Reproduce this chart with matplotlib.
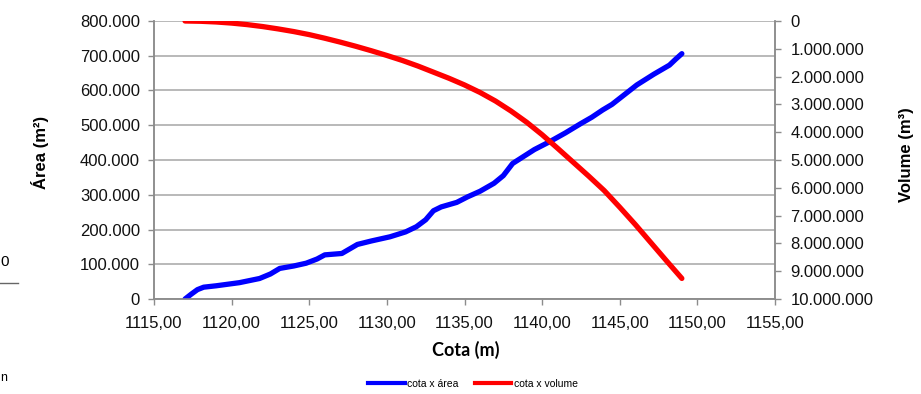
import numpy as np
import matplotlib
matplotlib.use('Agg')
import matplotlib.pyplot as plt
from matplotlib.ticker import FuncFormatter, MultipleLocator
from matplotlib.lines import Line2D

plt.rcParams['font.family'] = 'Liberation Sans'

# cota x área (m, m²)
cota_area = [1117.0, 1117.4, 1117.8, 1118.2, 1119.0, 1120.5, 1121.8, 1122.5, 1123.1, 1124.0,
             1124.8, 1125.5, 1126.0, 1127.1, 1128.1, 1129.0, 1130.2, 1131.2, 1131.9,
             1132.5, 1133.0, 1133.5, 1134.5, 1135.2, 1136.0, 1136.9, 1137.5, 1138.1,
             1138.8, 1139.5, 1140.5, 1141.5, 1142.5, 1143.2, 1143.9, 1144.5, 1145.3,
             1146.1, 1147.2, 1148.2, 1148.6, 1149.0]
area = [0, 14000, 27000, 34000, 38000, 47000, 59000, 72000, 88000, 95000,
        103000, 115000, 127000, 131000, 157000, 167000, 179000, 193000, 208000,
        228000, 254000, 265000, 278000, 294000, 310000, 333000, 355000, 390000,
        410000, 430000, 453000, 478000, 505000, 523000, 544000, 560000, 588000,
        616000, 647000, 673000, 690000, 706000]

# cota x volume (m, m³)
cota_vol = [1117.0, 1118.0, 1119.0, 1120.0, 1121.0, 1122.0, 1123.0, 1124.0, 1125.0,
            1126.0, 1127.0, 1128.0, 1129.0, 1130.0, 1131.0, 1132.0, 1133.0, 1134.0,
            1135.0, 1136.0, 1137.0, 1138.0, 1139.0, 1140.0, 1141.0, 1142.0, 1143.0,
            1144.0, 1145.0, 1146.0, 1147.0, 1148.0, 1149.0]
volume = [0, 10000, 35000, 75000, 130000, 200000, 285000, 380000, 490000,
          620000, 760000, 910000, 1070000, 1240000, 1420000, 1620000, 1840000, 2060000,
          2300000, 2570000, 2880000, 3240000, 3640000, 4090000, 4580000, 5080000, 5580000,
          6100000, 6700000, 7320000, 7970000, 8620000, 9260000]

fig = plt.figure(figsize=(9.21, 3.94), dpi=100)
ax = fig.add_axes([154/921, 1-299/394, (775-154)/921, (299-21)/394])
ax2 = ax.twinx()

grey = '#8c8c8c'

ax.plot(cota_area, area, color='#0000ff', lw=3.8, solid_capstyle='round',
        solid_joinstyle='round', label='cota x área', zorder=3)
ax2.plot(cota_vol, volume, color='#ff0000', lw=3.8, solid_capstyle='round',
         solid_joinstyle='round', label='cota x volume', zorder=3)

ax.set_xlim(1115, 1155)
ax.set_ylim(0, 800000)
ax2.set_ylim(10000000, 0)

ax.xaxis.set_major_locator(MultipleLocator(5))
ax.yaxis.set_major_locator(MultipleLocator(100000))
ax2.yaxis.set_major_locator(MultipleLocator(1000000))

ax.xaxis.set_major_formatter(FuncFormatter(lambda v, p: f"{v:.2f}".replace('.', ',')))
thous = FuncFormatter(lambda v, p: f"{v:,.0f}".replace(',', '.'))
ax.yaxis.set_major_formatter(thous)
ax2.yaxis.set_major_formatter(thous)

ax.grid(axis='y', color='#a6a6a6', lw=1.1)
ax.set_axisbelow(True)

for a in (ax, ax2):
    for s in a.spines.values():
        s.set_color(grey)
        s.set_linewidth(1.1)
    a.spines['top'].set_visible(False)
    a.tick_params(colors=grey, labelcolor='#111111', labelsize=12, length=4, width=1)

ax.tick_params(axis='y', pad=6)
ax.tick_params(axis='x', pad=8)
ax2.tick_params(axis='y', pad=7)

fig.text(40/921, 1-152/394, 'Área (m²)', rotation=90, ha='center', va='center',
         fontsize=12, fontweight='bold')
fig.text(906/921, 1-155/394, 'Volume (m³)', rotation=90, ha='center', va='center',
         fontsize=12, fontweight='bold')
fig.text(466/921, 1-350/394, 'Cota (m)', ha='center', va='center',
         fontsize=13, fontweight='bold', family='Lato')

handles = [Line2D([], [], color='#0000ff', lw=3), Line2D([], [], color='#ff0000', lw=3)]
fig.legend(handles, ['cota x área', 'cota x volume'], loc='center',
           bbox_to_anchor=(473/921, 1-384/394), ncol=2, frameon=False,
           fontsize=7.5, handlelength=3.5, handletextpad=0.2, columnspacing=1.6)

# fragments of neighbouring content at the left edge
fig.text(0/921, 1-262/394, '0', ha='left', va='center', fontsize=11)
fig.add_artist(Line2D([0, 18/921], [1-283/394, 1-283/394], color='#666666', lw=1))
fig.text(0/921, 1-378/394, 'n', ha='left', va='center', fontsize=9)

fig.savefig('out.png', dpi=100)
